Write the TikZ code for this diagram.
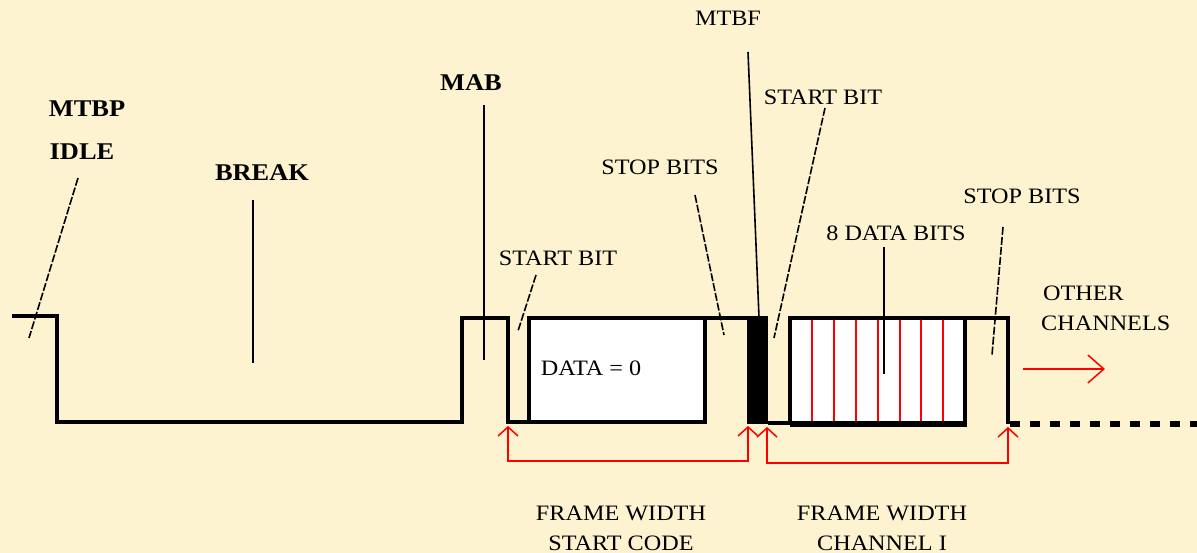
\documentclass[tikz,border=0pt]{standalone}
\usepackage{fontspec}
\usetikzlibrary{arrows.meta}
\newfontfamily\sigfont[FakeStretch=1.1]{Liberation Serif}
\definecolor{paper}{RGB}{253,243,208}

\begin{document}
\begin{tikzpicture}[x=1pt,y=-1pt,
  signal/.style={line width=3.5pt, line join=miter},
  leader/.style={line width=1.6pt},
  dashleader/.style={line width=1.6pt, dash pattern=on 8pt off 2pt},
  lbl/.style={font=\sigfont\fontsize{22}{24}\selectfont, inner sep=0pt},
  boldlbl/.style={font=\sigfont\bfseries\fontsize{24}{26}\selectfont, inner sep=0pt},
  widtharrow/.style={red, line width=1.5pt, -{Straight Barb[length=9pt,width=20pt]}}]
  % Background
  \fill[paper] (0,0) rectangle (1197,553);
  \useasboundingbox (0,0) rectangle (1197,553);
  % Idle, break and mark after break
  \draw[signal] (12,316) -- (57,316) -- (57,422) -- (462,422) -- (462,318)
    -- (508,318) -- (508,422) -- (529,422);
  % Start code frame
  \draw[signal, fill=white] (529,318) rectangle (705,422);
  \draw[signal] (705,318) -- (748,318);
  \fill (746.5,316.5) rectangle (768,424);
  \draw[signal] (768,423) -- (790,423);
  % Channel 1 frame with 8 data bits
  \draw[signal, fill=white] (790,318) rectangle (965,423);
  \foreach \k in {1,...,7}
    \draw[red, line width=2pt] (790+21.9*\k,320) -- (790+21.9*\k,421);
  \draw[line width=6pt] (790,424) -- (966.5,424);
  \draw[signal] (965,318) -- (1008,318) -- (1008,424);
  \draw[line width=6pt, dash pattern=on 10pt off 10pt] (1010,424) -- (1197,424);
  % Labels
  \node[boldlbl] (mtbp) at (87,109) {MTBP};
  \node[boldlbl] (idle) at (82,152) {IDLE};
  \node[boldlbl] (brk) at (262,173) {BREAK};
  \node[boldlbl] (mab) at (471,83) {MAB};
  \node[lbl] (mtbf) at (728,18) {MTBF};
  \node[lbl] (start0) at (558,258) {START BIT};
  \node[lbl] (stop0) at (660,167) {STOP BITS};
  \node[lbl] (start1) at (823,97) {START BIT};
  \node[lbl] (bits) at (896,233) {8 DATA BITS};
  \node[lbl] (stop1) at (1022,196) {STOP BITS};
  \node[lbl, anchor=west] (other) at (1043,293) {OTHER};
  \node[lbl, anchor=west] (chan) at (1041,323) {CHANNELS};
  \node[lbl] (data0) at (591,368) {DATA = 0};
  \node[lbl] (fw0) at (621,513) {FRAME WIDTH};
  \node[lbl] (sc) at (621,543) {START CODE};
  \node[lbl] (fw1) at (882,513) {FRAME WIDTH};
  \node[lbl] (ch1) at (882,543) {CHANNEL I};
  % Leader ends
  \coordinate (idle-a) at (78,178);   \coordinate (idle-b) at (29,338);
  \coordinate (brk-a) at (253,200);   \coordinate (brk-b) at (253,363);
  \coordinate (mab-a) at (484,105);   \coordinate (mab-b) at (484,360);
  \coordinate (start0-a) at (536,275); \coordinate (start0-b) at (518,331);
  \coordinate (stop0-a) at (695,195); \coordinate (stop0-b) at (724,335);
  \coordinate (mtbf-a) at (748,52);   \coordinate (mtbf-b) at (759,317);
  \coordinate (start1-a) at (825,108); \coordinate (start1-b) at (774,338);
  \coordinate (bits-a) at (884,247);  \coordinate (bits-b) at (884,374);
  \coordinate (stop1-a) at (1003,227); \coordinate (stop1-b) at (992,355);
  % Leaders
  \draw[dashleader] (idle-a) -- (idle-b);
  \draw[leader] (brk-a) -- (brk-b);
  \draw[leader] (mab-a) -- (mab-b);
  \draw[dashleader] (start0-a) -- (start0-b);
  \draw[dashleader] (stop0-a) -- (stop0-b);
  \draw[leader] (mtbf-a) -- (mtbf-b);
  \draw[dashleader] (start1-a) -- (start1-b);
  \draw[leader] (bits-a) -- (bits-b);
  \draw[dashleader] (stop1-a) -- (stop1-b);
  % Frame widths
  \coordinate (fw0-l) at (508,461); \coordinate (fw0-r) at (748,461);
  \coordinate (fw1-l) at (767,463); \coordinate (fw1-r) at (1008,463);
  \draw[widtharrow] (fw0-r) -- (fw0-l) -- (508,426);
  \draw[widtharrow] (fw0-l) -| (748,426);
  \draw[widtharrow] (fw1-r) -- (fw1-l) -- (767,427);
  \draw[widtharrow] (fw1-l) -| (1008,427);
  % Other channels follow
  \coordinate (more-a) at (1023,369); \coordinate (more-b) at (1105,369);
  \draw[red, line width=1.5pt, -{Straight Barb[length=16pt,width=28pt]}] (more-a) -- (more-b);
\end{tikzpicture}
\end{document}
